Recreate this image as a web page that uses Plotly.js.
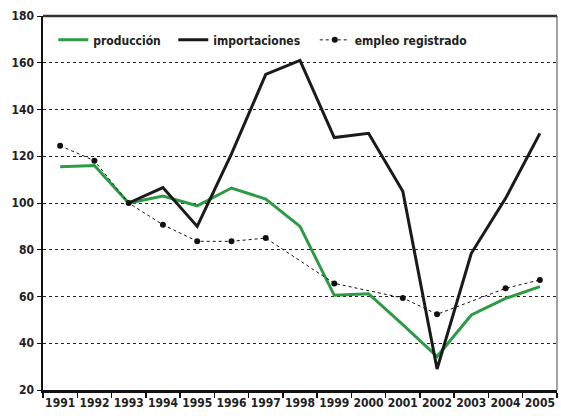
<!DOCTYPE html>
<html>
<head>
<meta charset="utf-8">
<script src="https://cdn.plot.ly/plotly-3.0.1.min.js"></script>
<style>
html,body{margin:0;padding:0;background:#fff;}
#chart{width:561px;height:416px;}
#chart text{font-stretch:condensed !important;}
</style>
</head>
<body>
<div id="chart"></div>
<script>
var years = ["1991","1992","1993","1994","1995","1996","1997","1998","1999","2000","2001","2002","2003","2004","2005"];
var produccion = [115.5, 116, 100, 103, 98.8, 106.4, 101.7, 90, 60.5, 61.2, 48, 34.3, 52.1, 59.2, 64.2];
var importaciones = [null, null, 100, 106.6, 90, 121, 155, 161, 128, 129.8, 105, 29, 78.5, 102, 129.8];
var empleo = [124.5, 118.1, 100, 90.7, 83.6, 83.6, 85, null, 65.6, null, 59.4, 52.4, null, 63.5, 67.1];

var fontFam = '"DejaVu Sans", sans-serif';

var traces = [
  {x: years, y: produccion, name: 'producción', type: 'scatter', mode: 'lines',
   line: {color: '#2e9a44', width: 3}},
  {x: years, y: importaciones, name: 'importaciones', type: 'scatter', mode: 'lines',
   line: {color: '#1a1a1a', width: 3}},
  {x: years, y: empleo, name: 'empleo registrado', type: 'scatter', mode: 'lines+markers',
   connectgaps: true,
   line: {color: '#111', width: 1, dash: 'dot'}, marker: {color: '#111', size: 6}}
];

var layout = {
  width: 561, height: 416,
  margin: {l: 43, r: 4, t: 16, b: 26},
  paper_bgcolor: '#fff', plot_bgcolor: '#fff',
  font: {family: fontFam, size: 12, color: '#222', weight: 'bold'},
  showlegend: true,
  legend: {orientation: 'h', x: 0.02, y: 0.975, xanchor: 'left', yanchor: 'top',
           bgcolor: 'rgba(0,0,0,0)', font: {family: fontFam, size: 12, color: '#222', weight: 'bold'},
           itemwidth: 30, tracegroupgap: 0},
  xaxis: {type: 'category', range: [-0.5, 14.5], tickson: 'boundaries', ticks: 'outside', ticklen: 5,
          tickangle: 0,
          tickcolor: '#111', tickwidth: 1.5, showgrid: false, zeroline: false,
          showline: true, linecolor: '#111', linewidth: 2.5,
          tickfont: {family: fontFam, size: 12, color: '#222', weight: 'bold'}, fixedrange: true},
  yaxis: {range: [20, 180], dtick: 20, tick0: 20, ticks: 'outside', ticklen: 4,
          tickcolor: '#111', tickwidth: 1, showgrid: true, gridcolor: '#222',
          griddash: 'dot', gridwidth: 1, zeroline: false,
          showline: true, linecolor: '#111', linewidth: 2.5,
          tickfont: {family: fontFam, size: 12, color: '#222', weight: 'bold'}, fixedrange: true},
  shapes: [
    {type: 'line', xref: 'paper', yref: 'paper', x0: 0, x1: 1, y0: 1, y1: 1,
     line: {color: '#333', width: 2.5}},
    {type: 'line', xref: 'paper', yref: 'paper', x0: 1, x1: 1, y0: 0, y1: 1,
     line: {color: '#444', width: 1}}
  ]
};

Plotly.newPlot('chart', traces, layout, {displayModeBar: false, staticPlot: true});
</script>
</body>
</html>
